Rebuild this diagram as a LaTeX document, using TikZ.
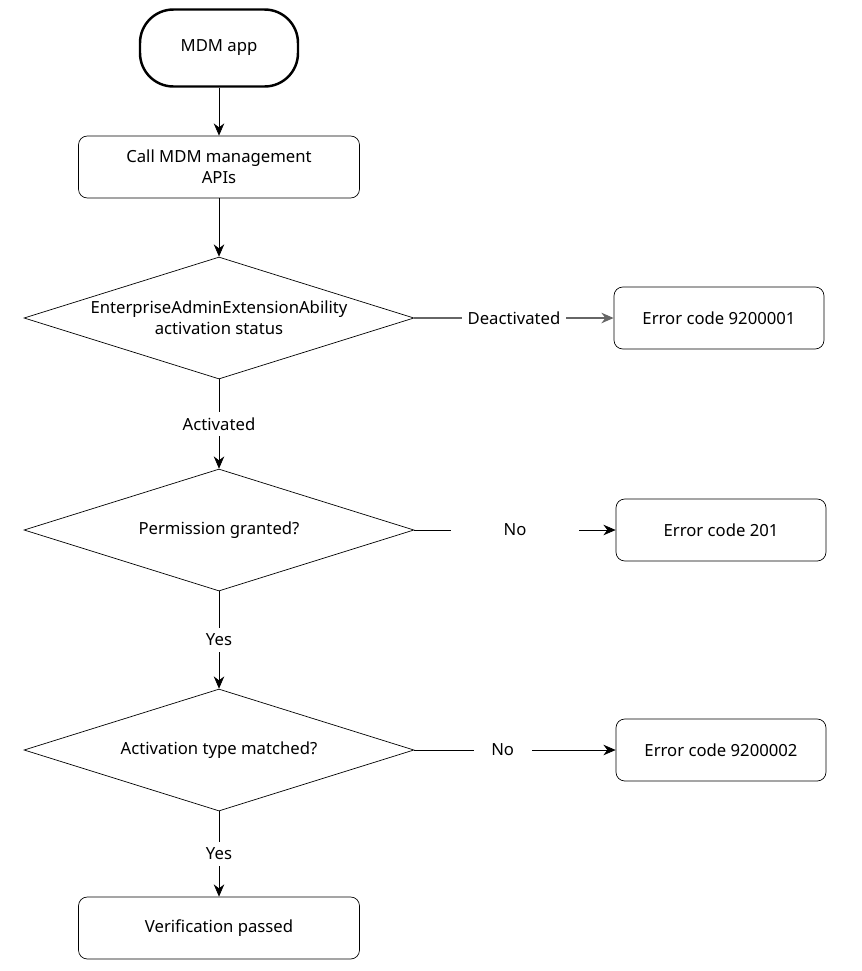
\documentclass[tikz,border=0pt]{standalone}
\usepackage{fontspec}
\setmainfont{Noto Sans}
\usetikzlibrary{positioning}
\usetikzlibrary{shapes.geometric, arrows.meta}
\tikzset{
  box/.style={draw,thin,rounded corners=5pt,minimum width=5.62cm,minimum height=1.24cm,align=center,font=\fontsize{9.5}{12}\selectfont},
  errbox/.style={box,minimum width=4.2cm},
  decision/.style={draw,thin,diamond,aspect=3.2,inner sep=0pt,minimum width=7.8cm,minimum height=2.44cm,align=center,font=\fontsize{9.5}{12}\selectfont},
  arrow/.style={thin,-{Stealth[length=7pt,width=6pt]}},
  lbl/.style={fill=white,font=\fontsize{9.5}{12}\selectfont}
}
\begin{document}
\begin{tikzpicture}[x=0.02cm,y=-0.02cm]
\useasboundingbox (0,0) rectangle (862,971);
%Nodes
\node [draw,line width=1.4pt,rounded corners=19pt,minimum width=3.16cm,minimum height=1.54cm,font=\fontsize{9.5}{12}\selectfont] (app) at (219,48) {MDM app};
\node [box] (call) at (219,167) {Call MDM management\\APIs};
\node [decision] (active) at (219,318) {EnterpriseAdminExtensionAbility\\activation status};
\node [errbox] (err1) at (719,318) {Error code 9200001};
\node [decision] (perm) at (219,530) {Permission granted?};
\node [errbox] (err2) at (721,530) {Error code 201};
\node [decision] (type) at (219,750) {Activation type matched?};
\node [errbox] (err3) at (721,750) {Error code 9200002};
\node [box] (pass) at (219,928) {Verification passed};
%Lines
\draw[arrow] (app) -- (call);
\draw[arrow] (call) -- (active);
\draw[arrow,gray!80!black,line width=0.8pt] (active.east) -- node[lbl,text=black]{Deactivated} (err1.west);
\draw[arrow] (active) -- node[lbl]{Activated} (perm);
\draw[arrow] (perm.east) -- node[lbl,inner xsep=30pt]{No} (err2.west);
\draw[arrow] (perm) -- node[lbl]{Yes} (type);
\draw[arrow] (type.east) -- node[lbl,inner xsep=10pt,xshift=-7pt]{No} (err3.west);
\draw[arrow] (type) -- node[lbl]{Yes} (pass);
\end{tikzpicture}
\end{document}
